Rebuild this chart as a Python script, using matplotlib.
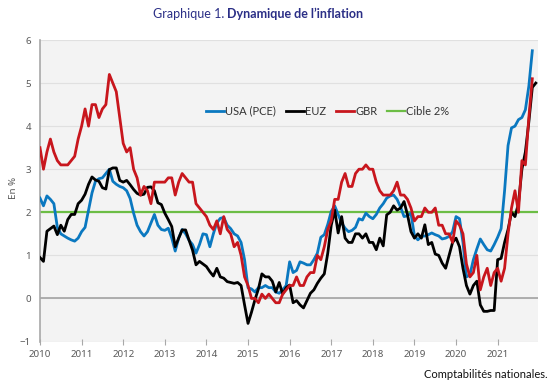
import matplotlib
matplotlib.use("Agg")
import matplotlib.pyplot as plt
import numpy as np

# ---- data (monthly, y/y %) ----
start_year = 2010
usa_pce = [
    2.33, 2.15, 2.38, 2.30, 2.20, 1.65, 1.50, 1.45, 1.40, 1.36, 1.33, 1.40,
    1.55, 1.65, 2.05, 2.45, 2.72, 2.78, 2.80, 2.90, 3.00, 2.72, 2.65, 2.60,
    2.57, 2.50, 2.32, 1.98, 1.70, 1.55, 1.45, 1.55, 1.75, 1.95, 1.70, 1.60,
    1.58, 1.63, 1.40, 1.10, 1.40, 1.60, 1.50, 1.35, 1.25, 1.05, 1.25, 1.50,
    1.48, 1.20, 1.50, 1.75, 1.86, 1.88, 1.70, 1.62, 1.50, 1.45, 1.30, 0.90,
    0.25, 0.22, 0.15, 0.25, 0.25, 0.30, 0.25, 0.25, 0.15, 0.12, 0.20, 0.30,
    0.85, 0.60, 0.65, 0.85, 0.82, 0.78, 0.78, 0.90, 1.05, 1.42, 1.48, 1.72,
    2.02, 2.15, 1.95, 1.75, 1.63, 1.55, 1.58, 1.65, 1.85, 1.82, 1.98, 1.90,
    1.85, 1.95, 2.10, 2.20, 2.33, 2.38, 2.40, 2.30, 2.12, 1.90, 1.92, 1.98,
    1.45, 1.36, 1.44, 1.45, 1.48, 1.52, 1.48, 1.45, 1.38, 1.40, 1.44, 1.55,
    1.90, 1.85, 1.30, 0.50, 0.55, 0.90, 1.15, 1.38, 1.25, 1.13, 1.10, 1.25,
    1.42, 1.62, 2.50, 3.55, 3.96, 4.00, 4.15, 4.20, 4.38, 4.93, 5.75,
]
euz = [
    0.95, 0.86, 1.56, 1.62, 1.68, 1.48, 1.70, 1.56, 1.83, 1.95, 1.95, 2.20,
    2.28, 2.42, 2.65, 2.82, 2.75, 2.72, 2.57, 2.54, 2.99, 3.03, 3.03, 2.74,
    2.70, 2.74, 2.64, 2.53, 2.44, 2.40, 2.42, 2.58, 2.59, 2.50, 2.22, 2.18,
    1.98, 1.83, 1.67, 1.20, 1.40, 1.59, 1.59, 1.35, 1.12, 0.78, 0.86, 0.80,
    0.74, 0.62, 0.52, 0.70, 0.50, 0.47, 0.39, 0.37, 0.35, 0.37, 0.30, -0.15,
    -0.58, -0.32, -0.03, 0.22, 0.57, 0.50, 0.50, 0.40, 0.15, 0.37, 0.10, 0.25,
    0.31, -0.10, -0.05, -0.15, -0.22, -0.05, 0.12, 0.20, 0.35, 0.47, 0.57, 1.05,
    1.70, 2.05, 1.52, 1.90, 1.40, 1.30, 1.30, 1.50, 1.50, 1.40, 1.50, 1.30,
    1.30, 1.13, 1.40, 1.22, 1.94, 2.00, 2.15, 2.05, 2.10, 2.25, 1.94, 1.55,
    1.40, 1.50, 1.40, 1.71, 1.25, 1.30, 1.03, 1.00, 0.82, 0.70, 1.00, 1.30,
    1.40, 1.20, 0.70, 0.30, 0.10, 0.30, 0.40, -0.15, -0.30, -0.30, -0.28, -0.28,
    0.90, 0.93, 1.30, 1.60, 2.00, 1.90, 2.20, 3.00, 3.40, 4.10, 4.90, 5.00,
]
gbr = [
    3.5, 3.0, 3.4, 3.7, 3.4, 3.2, 3.1, 3.1, 3.1, 3.2, 3.3, 3.7,
    4.0, 4.4, 4.0, 4.5, 4.5, 4.2, 4.4, 4.5, 5.2, 5.0, 4.8, 4.2,
    3.6, 3.4, 3.5, 3.0, 2.8, 2.4, 2.6, 2.5, 2.2, 2.7, 2.7, 2.7,
    2.7, 2.8, 2.8, 2.4, 2.7, 2.9, 2.8, 2.7, 2.7, 2.2, 2.1, 2.0,
    1.9, 1.7, 1.6, 1.8, 1.5, 1.9, 1.6, 1.5, 1.2, 1.3, 1.0, 0.5,
    0.3, 0.0, 0.0, -0.1, 0.1, 0.0, 0.1, 0.0, -0.1, -0.1, 0.1, 0.2,
    0.3, 0.3, 0.5, 0.3, 0.3, 0.5, 0.6, 0.6, 1.0, 0.9, 1.2, 1.6,
    1.8, 2.3, 2.3, 2.7, 2.9, 2.6, 2.6, 2.9, 3.0, 3.0, 3.1, 3.0,
    3.0, 2.7, 2.5, 2.4, 2.4, 2.4, 2.5, 2.7, 2.4, 2.4, 2.3, 2.1,
    1.8, 1.9, 1.9, 2.1, 2.0, 2.0, 2.1, 1.7, 1.7, 1.5, 1.5, 1.3,
    1.8, 1.7, 1.5, 0.8, 0.5, 0.6, 1.0, 0.2, 0.5, 0.7, 0.3, 0.6,
    0.7, 0.4, 0.7, 1.5, 2.1, 2.5, 2.0, 3.2, 3.1, 4.2, 5.1,
]
cible = 2.0
years = list(range(2010, 2022))
series_names = ["USA (PCE)", "EUZ", "GBR", "Cible 2%"]

# ---- styles ----
C_BLUE = "#0a78c0"
C_BLACK = "#000000"
C_RED = "#c8161d"
C_GREEN = "#6cbd45"
TXT = "#595959"


def xs(n):
    return start_year + np.arange(n) / 12.0


fig = plt.figure(figsize=(5.5, 3.86), dpi=100)
ax = fig.add_axes([40 / 550, 1 - 341.5 / 386, 498 / 550, 301.5 / 386])
ax.set_facecolor("#f3f3f3")

ax.set_ylim(-1, 6)
ax.set_xlim(2010, 2021.97)
ax.set_yticks(range(-1, 7))
ax.set_xticks(years)
ax.set_xticklabels([str(y) for y in years])

ax.grid(axis="y", color="#e0e0e0", lw=0.8)
ax.set_axisbelow(True)
ax.axhline(0, color="#a8a8a8", lw=1.3, zorder=1)

lw = 2.0
ax.plot(xs(len(usa_pce)), usa_pce, color=C_BLUE, lw=lw, label=series_names[0], zorder=3)
ax.plot(xs(len(euz)), euz, color=C_BLACK, lw=lw, label=series_names[1], zorder=3)
ax.plot(xs(len(gbr)), gbr, color=C_RED, lw=lw, label=series_names[2], zorder=3)
ax.axhline(cible, color=C_GREEN, lw=1.6, label=series_names[3], zorder=2)

for s in ["top", "right", "bottom"]:
    ax.spines[s].set_visible(False)
ax.spines["left"].set_color("#a8a8a8")
ax.spines["left"].set_linewidth(1.2)

tick_font = dict(family="Noto Sans", size=7, color=TXT)
ax.tick_params(axis="y", length=0, pad=6.5)
ax.tick_params(axis="x", length=4, direction="inout", color="#a8a8a8", pad=4)
for lab in ax.get_xticklabels() + ax.get_yticklabels():
    lab.set_fontfamily("Noto Sans")
    lab.set_fontsize(7)
    lab.set_color(TXT)

leg = ax.legend(loc="center", bbox_to_anchor=(0.578, 0.764), ncol=4, frameon=False,
                handlelength=1.6, handletextpad=0.1, columnspacing=0.9,
                prop=dict(family="Lato", size=8))
for t in leg.get_texts():
    t.set_color("#333333")

fig.text(14 / 550, 1 - 188 / 386, "En %", rotation=90, ha="center", va="center",
         family="Noto Sans", size=7, color=TXT)

# title in two parts
TITLE_C = "#2b2f86"
t1 = fig.text(0, 1 - 14 / 386, "Graphique 1. ", family="Lato", size=9, color=TITLE_C,
              ha="left", va="center")
t2 = fig.text(0, 1 - 14 / 386, "Dynamique de l\u2019inflation", family="Lato", size=9,
              weight="bold", color=TITLE_C, ha="left", va="center")
fig.canvas.draw()
r = fig.canvas.get_renderer()
w1 = t1.get_window_extent(r).width
w2 = t2.get_window_extent(r).width
x0 = 258 - (w1 + w2) / 2
t1.set_x(x0 / 550)
t2.set_x((x0 + w1) / 550)

fig.text(548 / 550, 1 - 375 / 386, "Comptabilit\u00e9s nationales.", family="Lato", size=8,
         color="#111111", ha="right", va="center")

fig.savefig("out.png", dpi=100)
